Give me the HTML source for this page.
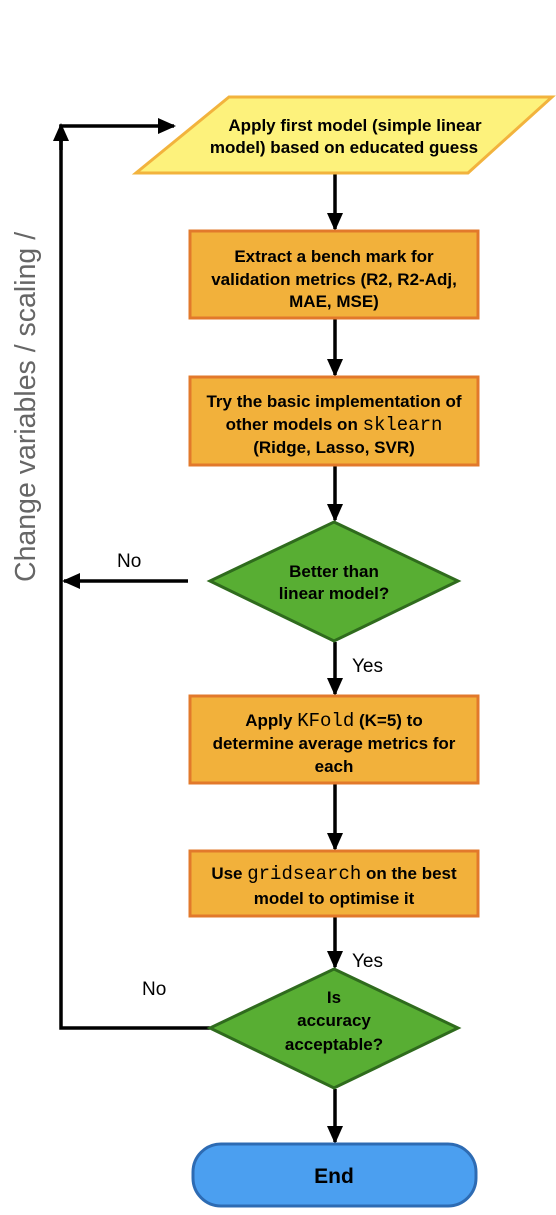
<!DOCTYPE html>
<html><head><style>
body{margin:0;background:#fff;}
svg text{font-family:"Liberation Sans",sans-serif;}
</style></head><body>
<svg width="556" height="1210" viewBox="0 0 556 1210" xmlns="http://www.w3.org/2000/svg">
<defs>
<marker id="b" markerWidth="18" markerHeight="16" refX="16" refY="8" orient="auto" markerUnits="userSpaceOnUse"><path d="M0,0 L18,8 L0,16 z" fill="#000"/></marker></defs>
<g stroke="#000" stroke-width="3.5" fill="none">
<line x1="335" y1="174" x2="335" y2="229" marker-end="url(#b)"/>
<line x1="335" y1="319" x2="335" y2="375" marker-end="url(#b)"/>
<line x1="335" y1="466" x2="335" y2="520" marker-end="url(#b)"/>
<line x1="335" y1="642" x2="335" y2="694" marker-end="url(#b)"/>
<line x1="335" y1="784" x2="335" y2="849" marker-end="url(#b)"/>
<line x1="335" y1="917" x2="335" y2="967" marker-end="url(#b)"/>
<line x1="335" y1="1089" x2="335" y2="1142" marker-end="url(#b)"/>
<line x1="188" y1="581" x2="64" y2="581" marker-end="url(#b)"/>
<polyline points="210,1028 61,1028 61,128" />
<polyline points="61,142 61,126 174,126" marker-end="url(#b)"/>
<line x1="61" y1="150" x2="61" y2="125" marker-end="url(#b)"/>
</g>
<polygon points="229,97 552,97 468,173 136,173" fill="#fdf27c" stroke="#f2b33d" stroke-width="3"/>
<g font-size="17" font-weight="bold" text-anchor="middle">
<text x="355" y="131">Apply first model (simple linear</text>
<text x="344" y="153">model) based on educated guess</text>
<text x="334" y="262">Extract a bench mark for</text>
<text x="334" y="285">validation metrics (R2, R2-Adj,</text>
<text x="334" y="307">MAE, MSE)</text>
<text x="334" y="407">Try the basic implementation of</text>
<text x="334" y="430">other models on <tspan font-family="Liberation Mono,monospace" font-weight="normal" font-size="19">sklearn</tspan></text>
<text x="334" y="453">(Ridge, Lasso, SVR)</text>
<text x="334" y="726">Apply <tspan font-family="Liberation Mono,monospace" font-weight="normal" font-size="19">KFold</tspan> (K=5) to</text>
<text x="334" y="749">determine average metrics for</text>
<text x="334" y="772">each</text>
<text x="334" y="879">Use <tspan font-family="Liberation Mono,monospace" font-weight="normal" font-size="19">gridsearch</tspan> on the best</text>
<text x="334" y="904">model to optimise it</text>
</g>
<g fill="#f2b13b" stroke="#e2792b" stroke-width="3">
<rect x="190" y="231" width="288" height="87"/>
<rect x="190" y="377" width="288" height="88"/>
<rect x="190" y="696" width="288" height="87"/>
<rect x="190" y="851" width="288" height="65"/>
</g>
<g font-size="17" font-weight="bold" text-anchor="middle">
<text x="334" y="262">Extract a bench mark for</text>
<text x="334" y="285">validation metrics (R2, R2-Adj,</text>
<text x="334" y="307">MAE, MSE)</text>
<text x="334" y="407">Try the basic implementation of</text>
<text x="334" y="430">other models on <tspan font-family="Liberation Mono,monospace" font-weight="normal" font-size="19">sklearn</tspan></text>
<text x="334" y="453">(Ridge, Lasso, SVR)</text>
<text x="334" y="726">Apply <tspan font-family="Liberation Mono,monospace" font-weight="normal" font-size="19">KFold</tspan> (K=5) to</text>
<text x="334" y="749">determine average metrics for</text>
<text x="334" y="772">each</text>
<text x="334" y="879">Use <tspan font-family="Liberation Mono,monospace" font-weight="normal" font-size="19">gridsearch</tspan> on the best</text>
<text x="334" y="904">model to optimise it</text>
</g>
<g fill="#58ae33" stroke="#2f6b1d" stroke-width="3">
<polygon points="334,522 458,581 334,641 210,581"/>
<polygon points="334,969 458,1028 334,1088 210,1028"/>
</g>
<g font-size="17" font-weight="bold" text-anchor="middle">
<text x="334" y="577">Better than</text>
<text x="334" y="599">linear model?</text>
<text x="334" y="1003">Is</text>
<text x="334" y="1026">accuracy</text>
<text x="334" y="1050">acceptable?</text>
</g>
<rect x="193" y="1144" width="283" height="62" rx="28" fill="#4b9ff0" stroke="#2d6bb3" stroke-width="3"/>
<text x="334" y="1183" text-anchor="middle" font-size="21" font-weight="bold">End</text>
<g font-size="19">
<text x="352" y="672">Yes</text>
<text x="352" y="967">Yes</text>
<text x="117" y="567">No</text>
<text x="142" y="995">No</text>
</g>
<text transform="translate(35,582) rotate(-90)" font-size="28.5" fill="#666">Change variables / scaling /</text>
</svg>
</body></html>
